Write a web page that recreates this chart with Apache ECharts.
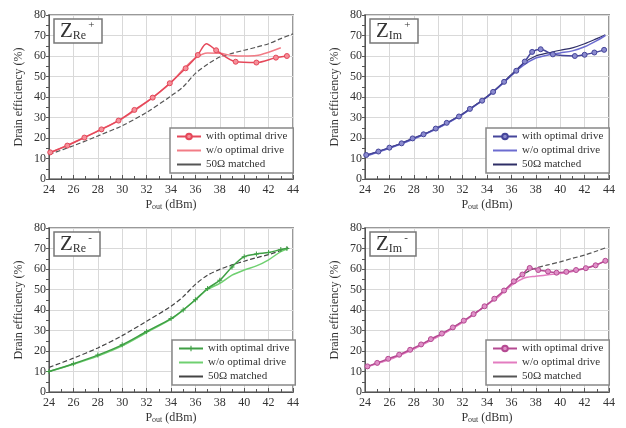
<!DOCTYPE html>
<html><head><meta charset="utf-8">
<script src="https://cdn.jsdelivr.net/npm/echarts@6/dist/echarts.min.js"></script>
<style>html,body{margin:0;padding:0;background:#fff}#c{width:626px;height:428px}</style>
</head><body><div id="c"></div>
<script>
// Panel labels
const panelSubs = ['Re', 'Im', 'Re', 'Im'];
const panelSups = ['+', '+', '-', '-'];
const legendNames = ['with optimal drive', 'w/o optimal drive', '50\u03a9 matched'];

// Panel 1: Z_Re+
const reP_with = [[24.1,13],[25.5,16.3],[26.9,20.2],[28.3,24.2],[29.7,28.5],[31.0,33.7],[32.5,39.7],[33.9,46.7],[35.2,54],[36.2,60.5],[36.9,66],[37.7,62.8],[39.3,57.2],[41.0,56.8],[42.6,59.2],[43.5,60]];
const reP_without = [[24,12.5],[26,17.8],[28,23.5],[30,29.5],[32,37.5],[34,47],[35,53.5],[36,59],[37,61.5],[38,61.3],[39,60.3],[40,60],[41,60.2],[42,61.8],[43,64]];
const reP_matched = [[24,12],[26,16.2],[28,21],[30,26],[32,32.5],[34,40.5],[35,45],[36,51.5],[37,56],[38,59.5],[39,61.3],[40,62.8],[41,64.3],[42,66],[43,68.5],[44,70.8]];

// Panel 2: Z_Im+
const imP_with = [[24.1,11.7],[25.1,13.4],[26,15.3],[27,17.4],[27.9,19.8],[28.8,21.8],[29.8,24.6],[30.7,27.4],[31.7,30.5],[32.6,34.2],[33.6,38.2],[34.5,42.5],[35.4,47.4],[36.4,52.8],[37.1,57.3],[37.7,62],[38.4,63.3],[39.4,60.8],[41.2,60],[42,60.6],[42.8,61.7],[43.6,63]];
const imP_without = [[24,11],[26,15],[28,19.5],[30,24.8],[32,31.5],[34,40],[35,45],[36,50.5],[37,55.5],[38,59],[39,60.5],[40,61.5],[41,62.5],[42,64.5],[43,67.5],[43.7,70]];
const imP_matched = [[24,11.3],[26,15.2],[28,19.8],[30,25],[32,31.8],[34,40.3],[35,45.3],[36,51],[37,56.5],[38,60],[39,61.5],[40,62.8],[41,64],[42,66],[43,68.5],[43.7,70.3]];

// Panel 3: Z_Re-
const reM_with = [[24,10],[26,13.8],[28,18],[30,23],[32,29.5],[34,35.8],[35,40],[36,45],[37,50.5],[38,54.5],[39,61],[40,66],[41,67.3],[42,68],[43,69.5],[43.5,70]];
const reM_without = [[24,10],[26,13.5],[28,17.5],[30,22.5],[32,29],[34,35.5],[35,40],[36,45],[37,50],[38,53],[39,57],[40,59.5],[41,61.5],[42,64.5],[43,68.5],[43.6,70]];
const reM_matched = [[24,12],[26,16.5],[28,21.5],[30,27.5],[32,34.5],[34,41.8],[35,46.5],[36,52.5],[37,57],[38,59.8],[39,62],[40,63.8],[41,65.5],[42,67],[43,69],[43.6,70.5]];

// Panel 4: Z_Im-
const imM_with = [[24.2,12.5],[25,14.2],[25.9,16.2],[26.8,18.2],[27.7,20.6],[28.6,23.2],[29.4,25.8],[30.3,28.5],[31.2,31.5],[32.1,34.8],[32.9,38],[33.8,41.8],[34.6,45.5],[35.4,49.5],[36.2,54],[36.9,57.3],[37.5,60.5],[38.2,59.5],[39,58.8],[39.7,58.2],[40.5,58.6],[41.3,59.5],[42.1,60.4],[42.9,61.8],[43.7,64]];
const imM_without = [[24,12],[26,15.8],[28,21],[30,27],[32,34],[34,42.5],[35,46.8],[36,52],[37,55.5],[38,56.5],[39,57.2],[40,57.8],[41,58.8],[42,60.2],[43,62.2],[43.8,64.2]];
const imM_matched = [[24,12.2],[26,16],[28,21.3],[30,27.3],[32,34.3],[34,42.5],[35,47],[36,52.5],[37,57.5],[38,60.5],[39,62],[40,63.5],[41,65.2],[42,66.8],[43,68.8],[43.8,70.5]];

const xTicks = [24, 44, 2];
const yTicks = [0, 80, 10];

const SERIF = 'Liberation Serif';
const grids = [
  {left:49, top:15, width:244, height:164},
  {left:365, top:15, width:244, height:164},
  {left:49, top:228, width:244, height:164},
  {left:365, top:228, width:244, height:164}
];
const panels = [
  {w: reP_with, wo: reP_without, m: reP_matched, c:'#e5485a', c2:'#f27c86', fill:'#f5909a', sym:'circle', mc:'#555', mdash:'dashed', noMark:[10]},
  {w: imP_with, wo: imP_without, m: imP_matched, c:'#45459a', c2:'#6c6cd0', fill:'#8b8bcf', sym:'circle', mc:'#2e2e66', mdash:'solid', noMark:[]},
  {w: reM_with, wo: reM_without, m: reM_matched, c:'#3f9f45', c2:'#6fd070', fill:'#3f9f45', sym:'path://M4,0H6V4H10V6H6V10H4V6H0V4H4Z', mc:'#444', mdash:'dashed', noMark:[]},
  {w: imM_with, wo: imM_without, m: imM_matched, c:'#b54a92', c2:'#e37cc0', fill:'#e090c8', sym:'circle', mc:'#555', mdash:'dashed', noMark:[]}
];
const legendPos = [
  {left:170, top:128}, {left:486, top:128}, {left:172, top:340}, {left:486, top:340}
];

const xAxes = [], yAxes = [], series = [], legends = [], titles = [];
grids.forEach((g, i) => {
  g.show = true; g.borderColor = '#999'; g.borderWidth = 2; g.containLabel = false;
  xAxes.push({
    type:'value', gridIndex:i, min:xTicks[0], max:xTicks[1], interval:xTicks[2],
    axisLine:{show:true, onZero:false, lineStyle:{color:'#555', width:1}},
    axisTick:{show:true, inside:true, length:4, lineStyle:{color:'#555'}},
    minorTick:{show:true, splitNumber:2, length:3, lineStyle:{color:'#555'}},
    splitLine:{show:true, lineStyle:{color:'#d9d9d9', width:1}},
    axisLabel:{color:'#333', fontFamily:SERIF, fontSize:12, margin:5},
    name:'{a|P}{s|out}{a| (dBm)}', nameLocation:'middle', nameGap:20,
    nameTextStyle:{rich:{a:{fontFamily:SERIF, fontSize:12, color:'#333'}, s:{fontFamily:SERIF, fontSize:8, color:'#333', verticalAlign:'bottom', padding:[4,0,0,0]}}}
  });
  yAxes.push({
    type:'value', gridIndex:i, min:yTicks[0], max:yTicks[1], interval:yTicks[2],
    axisLine:{show:true, onZero:false, lineStyle:{color:'#555', width:1}},
    axisTick:{show:true, inside:false, length:3, lineStyle:{color:'#555'}},
    minorTick:{show:true, splitNumber:2, length:3, lineStyle:{color:'#555'}},
    splitLine:{show:true, lineStyle:{color:'#d9d9d9', width:1}},
    axisLabel:{color:'#333', fontFamily:SERIF, fontSize:12, margin:3},
    name:'Drain efficiency (%)', nameLocation:'middle', nameGap:24,
    nameTextStyle:{fontFamily:SERIF, fontSize:12, color:'#333'}
  });
  const p = panels[i];
  const sfx = '#' + i;
  series.push({
    name: legendNames[0] + sfx, type:'line', xAxisIndex:i, yAxisIndex:i, smooth:0.3,
    data: p.w.map((d, k) => p.noMark.indexOf(k) >= 0 ? {value:d, symbol:'none'} : {value:d}),
    symbol: p.sym, symbolSize: 5, showAllSymbol:true,
    itemStyle:{color:p.fill, borderColor:p.c, borderWidth: i === 2 ? 0 : 1},
    lineStyle:{color:p.c, width:1.5}, z:4
  });
  series.push({
    name: legendNames[1] + sfx, type:'line', xAxisIndex:i, yAxisIndex:i, smooth:0.3,
    data: p.wo, symbol:'none', itemStyle:{color:p.c2}, lineStyle:{color:p.c2, width:1.5}, z:3
  });
  series.push({
    name: legendNames[2] + sfx, type:'line', xAxisIndex:i, yAxisIndex:i, smooth:0.3,
    data: p.m, symbol:'none', itemStyle:{color:p.mc}, lineStyle:{color:p.mc, width:1.2, type:p.mdash}, z:2
  });
  legends.push({
    orient:'vertical', left:legendPos[i].left, top:legendPos[i].top,
    data: [
      {name: legendNames[0] + sfx},
      {name: legendNames[1] + sfx, itemStyle:{opacity:0}},
      {name: legendNames[2] + sfx, itemStyle:{opacity:0}, lineStyle:{type:'solid'}}
    ],
    formatter: n => n.split('#')[0],
    backgroundColor:'#fff', borderColor:'#888', borderWidth:1.5, padding:[3,6,3,6],
    itemWidth:24, itemHeight:7, itemGap:3, selectedMode:false,
    textStyle:{fontFamily:SERIF, fontSize:11, color:'#333'}
  });
  titles.push({
    left: g.left + 5, top: g.top + 4,
    text: '{z|Z}{s|' + panelSubs[i] + '}{p|' + panelSups[i] + '}',
    borderColor:'#777', borderWidth:1.5, padding:[1,8,1,6], backgroundColor:'#fff',
    textStyle:{fontWeight:'normal', rich:{
      z:{fontFamily:SERIF, fontSize:21, fontWeight:'normal', color:'#333', lineHeight:22},
      s:{fontFamily:SERIF, fontSize:12, fontWeight:'normal', color:'#333', verticalAlign:'bottom', lineHeight:22, padding:[8,0,0,0]},
      p:{fontFamily:SERIF, fontSize:11, fontWeight:'normal', color:'#333', verticalAlign:'top', lineHeight:22, padding:[0,0,8,2]}
    }}
  });
});

const chart = echarts.init(document.getElementById('c'), null, {renderer:'canvas'});
chart.setOption({
  animation:false, backgroundColor:'#fff',
  title: titles, legend: legends, grid: grids, xAxis: xAxes, yAxis: yAxes, series: series
});
</script></body></html>
